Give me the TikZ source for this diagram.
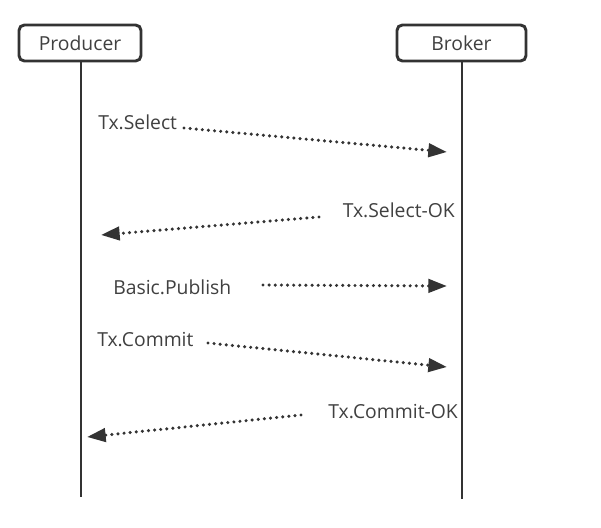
\documentclass[tikz,border=0pt]{standalone}
\usepackage{fontspec}
\setmainfont{Open Sans}
\usetikzlibrary{arrows.meta}
\definecolor{ink}{HTML}{333333}
\definecolor{txt}{HTML}{404040}
\tikzset{
  x=0.75pt, y=-0.75pt,
  actor/.style={draw=ink, line width=2.2pt, rounded corners=4pt, fill=white, minimum height=36*0.75pt, inner sep=0pt, text=txt, font=\fontsize{14.5}{17}\selectfont},
  lifeline/.style={draw=ink, line width=2.2pt},
  msg/.style={draw=ink, line width=2.6pt, line cap=round, dash pattern=on 0pt off 4.6pt, -{Triangle[length=14pt, width=10pt, line cap=butt]}},
  lbl/.style={text=txt, font=\fontsize{14.5}{17}\selectfont, inner sep=0pt, anchor=west},
  rlbl/.style={lbl, anchor=east}
}
\begin{document}
\begin{tikzpicture}
\useasboundingbox (0,0) rectangle (601,528);
\node[actor, minimum width=122*0.75pt] (prod) at (80,43) {Producer};
\node[actor, minimum width=129*0.75pt] (brok) at (461.5,43) {Broker};
\coordinate (pend) at (81,497);
\coordinate (bend) at (462,499);
\draw[lifeline] (prod.south -| pend) -- (pend);
\draw[lifeline] (brok.south -| bend) -- (bend);

\node[lbl] (l1) at (98,122) {Tx.Select};
\coordinate (a1s) at (184,128);
\coordinate (a1e) at (447,152);
\draw[msg] (a1s) -- (a1e);

\node[rlbl] (l2) at (455,210) {Tx.Select-OK};
\coordinate (a2s) at (319,217);
\coordinate (a2e) at (101,235);
\draw[msg] (a2s) -- (a2e);

\node[lbl] (l3) at (113,287) {Basic.Publish};
\coordinate (a3s) at (263,285);
\coordinate (a3e) at (447,286);
\draw[msg] (a3s) -- (a3e);

\node[lbl] (l4) at (97,340) {Tx.Commit};
\coordinate (a4s) at (208,343);
\coordinate (a4e) at (447,367);
\draw[msg] (a4s) -- (a4e);

\node[rlbl] (l5) at (458,412) {Tx.Commit-OK};
\coordinate (a5s) at (301,415);
\coordinate (a5e) at (87,437);
\draw[msg] (a5s) -- (a5e);
\end{tikzpicture}
\end{document}
